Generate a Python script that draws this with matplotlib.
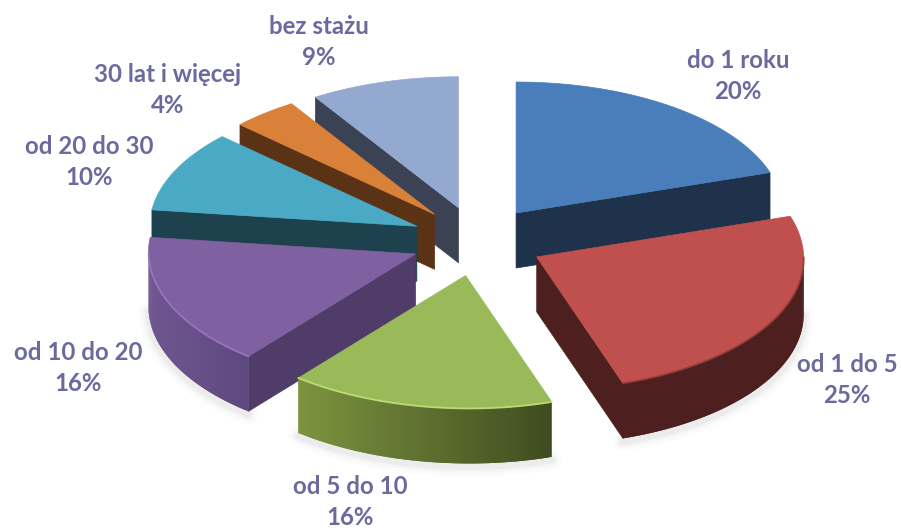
import matplotlib
matplotlib.use('Agg')
import matplotlib.pyplot as plt
import numpy as np

labels = ['do 1 roku', 'od 1 do 5', 'od 5 do 10', 'od 10 do 20', 'od 20 do 30', '30 lat i więcej', 'bez stażu']
shares = [20, 25, 16, 16, 10, 4, 9]

top_colors = ['#4a7eba', '#bf504d', '#9aba59', '#7f60a0', '#4aaac5', '#d98139', '#93a9d0']
cut_colors = ['#1e324c', '#4d1f1e', '#3f4c20', '#503c68', '#1d424d', '#5a3317', '#3a4254']
rim_left = ['#1e324c', '#4d1f1e', '#7c943f', '#6f5690', '#1d424d', '#5a3317', '#3a4254']
rim_right = ['#1e324c', '#4d1f1e', '#3f4c20', '#5f4880', '#1d424d', '#5a3317', '#3a4254']
edge_colors = [None, '#8a3836', '#c8e67e', '#9a7cc8', None, None, None]
label_xy = [(738, 76), (847, 380), (350, 502), (78, 368), (89, 162), (168, 90), (319, 42)]

# pie geometry, in pixels of the picture
cx, cy = 477, 241
rx, ry = 267, 131
ex, ey = 66.5, 34.6
depth = 55
shear = 0.03  # front of the pie leans a little to the right
draw_order = [6, 5, 0, 4, 3, 2, 1]

fig = plt.figure(figsize=(9.01, 5.30), dpi=100)
ax = fig.add_axes([0, 0, 1, 1])
ax.set_xlim(0, 901)
ax.set_ylim(530, 0)
ax.axis('off')

edges = np.cumsum([0] + shares) / sum(shares) * 2 * np.pi


def lean(x, y):
    return x + shear * np.maximum(y - cy, 0), y + 0.015 * np.maximum(y - cy, 0)


def rim_point(x0, y0, a):
    return lean(x0 + rx * np.sin(a), y0 - ry * np.cos(a))


def mix(c1, c2, t):
    c1 = np.array(matplotlib.colors.to_rgb(c1))
    c2 = np.array(matplotlib.colors.to_rgb(c2))
    return tuple(c1 + (c2 - c1) * t)


for i in draw_order:
    a0, a1 = edges[i], edges[i + 1]
    mid = (a0 + a1) / 2
    x0 = cx + ex * np.sin(mid)
    y0 = cy - ey * np.cos(mid)
    t = np.linspace(a0, a1, 80)
    xs, ys = rim_point(x0, y0, t)
    ax0, ay0 = lean(x0, y0)
    z = 2 + draw_order.index(i)

    # soft shadow under the visible part of the rim
    vis = (t > np.pi / 2) & (t < 3 * np.pi / 2)
    if vis.sum() > 1:
        for lw, al in [(14, 0.025), (9, 0.035), (5, 0.05)]:
            ax.plot(xs[vis], ys[vis] + depth + 3, color='#555555', lw=lw, alpha=al,
                    solid_capstyle='round', zorder=1)

    # flat cut faces that look towards the viewer
    for a, on in [(a0, a0 > np.pi), (a1, 0 < a1 < np.pi)]:
        if on:
            px, py = rim_point(x0, y0, a)
            ax.fill([ax0, px, px, ax0], [ay0, py, py + depth, ay0 + depth],
                    color=cut_colors[i], lw=0.5, zorder=z)

    # outer wall, split in overlapping strips for the gradient
    if vis.sum() > 1:
        vx, vy = xs[vis], ys[vis]
        xl, xr = vx.min(), vx.max()
        for k in range(len(vx) - 1):
            m = min(k + 2, len(vx) - 1)
            c = mix(rim_left[i], rim_right[i], ((vx[k] + vx[k + 1]) / 2 - xl) / (xr - xl))
            ax.fill([vx[k], vx[m], vx[m], vx[k]],
                    [vy[k], vy[m], vy[m] + depth, vy[k] + depth],
                    facecolor=c, edgecolor='none', zorder=z)

    # top of the slice
    ax.fill(np.r_[ax0, xs], np.r_[ay0, ys], color=top_colors[i], lw=0.5, zorder=z)
    if edge_colors[i] is not None and vis.sum() > 1:
        ax.plot(xs[vis], ys[vis], color=edge_colors[i], lw=1.3, alpha=0.8, zorder=z)

for name, val, (lx, ly) in zip(labels, shares, label_xy):
    ax.text(lx, ly, name + '\n' + str(val) + '%', ha='center', va='center', color='#6a6a9f',
            fontsize=17.3, fontweight='bold', family='Lato', linespacing=1.42, zorder=20)

fig.savefig('out.png', dpi=100)
